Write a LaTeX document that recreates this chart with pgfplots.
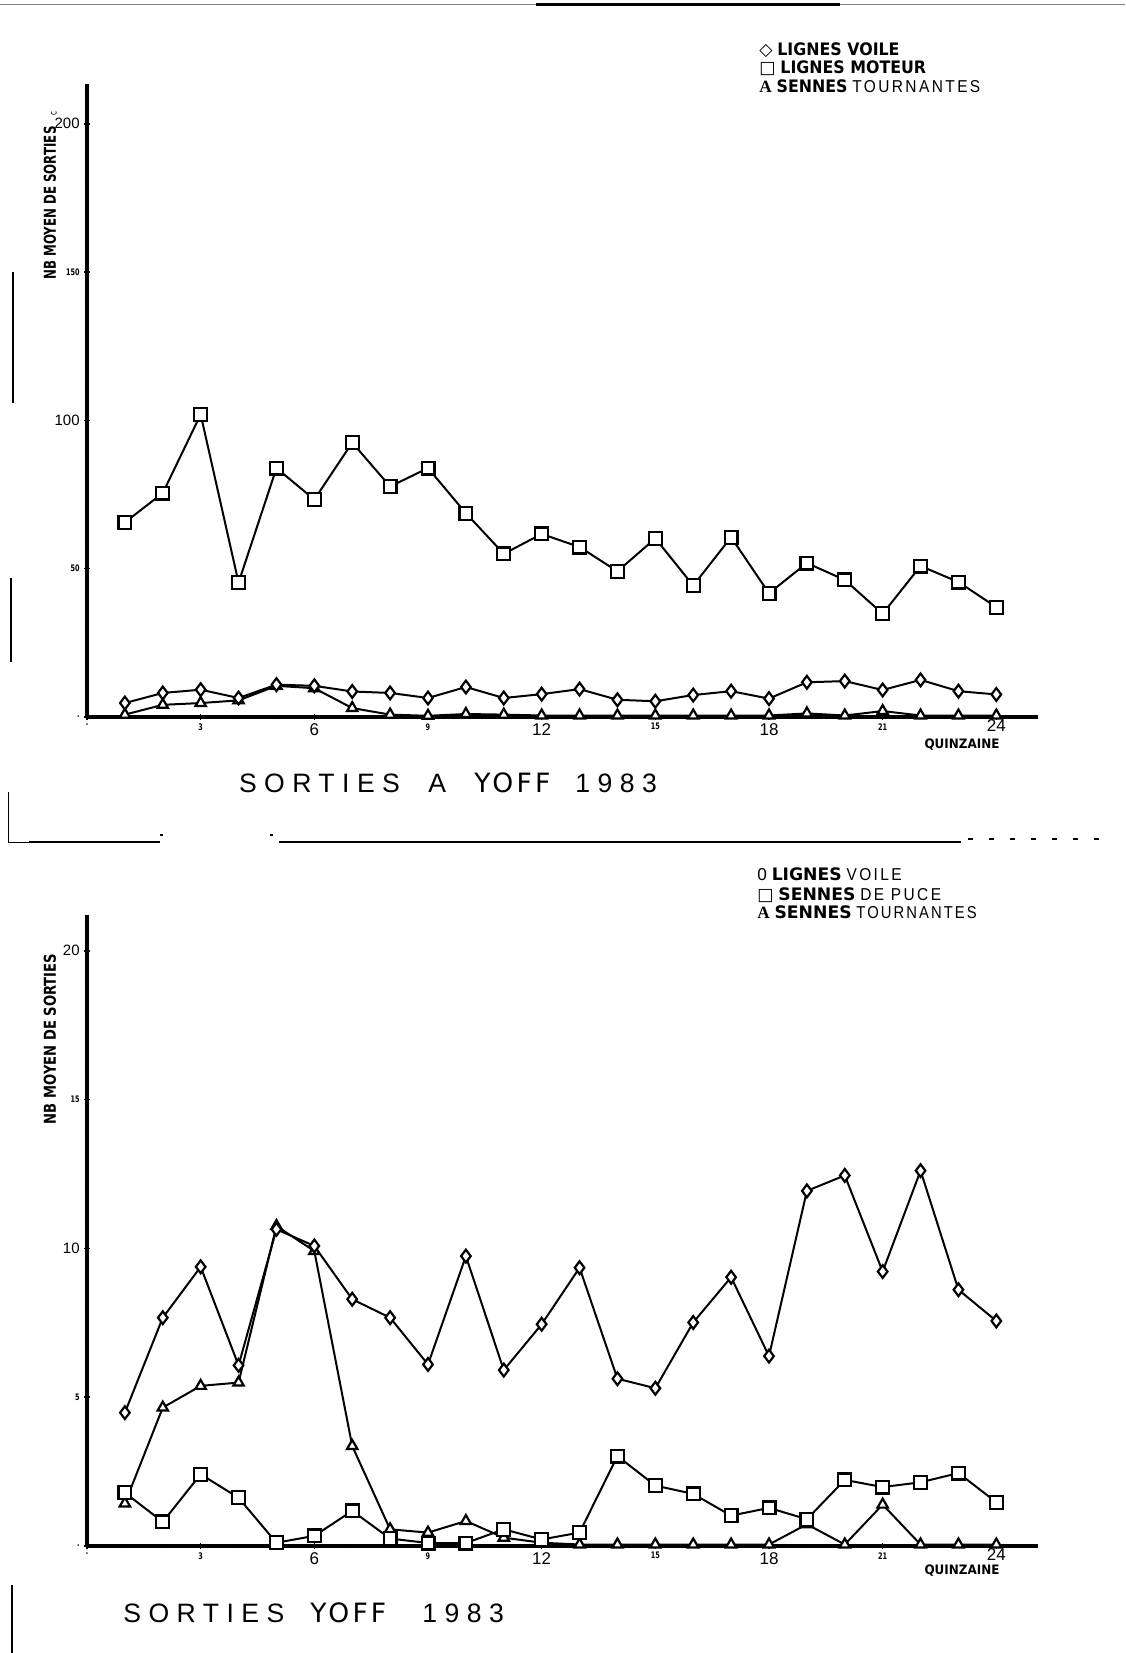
\documentclass[border=0pt]{standalone}
\usepackage{pgfplots}
\usepackage{pgfplotstable}
\pgfplotsset{compat=1.18}
\usepackage{fontspec}
\setmainfont{Liberation Sans}
\newfontfamily\sym{DejaVu Sans}
\newfontfamily\stamp[FakeStretch=0.92]{DejaVu Sans}
\newfontfamily\stampnarrow[FakeStretch=0.72]{DejaVu Sans}
\newfontfamily\stamplabel[FakeStretch=0.8]{DejaVu Sans}
\newfontfamily\spaced[LetterSpace=28]{Liberation Sans}
\newfontfamily\spacedsmall[LetterSpace=14,FakeStretch=0.9]{Liberation Sans}
\newfontfamily\spacedtight[LetterSpace=12,FakeStretch=0.86]{Liberation Sans}
\newfontfamily\serifA{Liberation Serif}
\newfontfamily\yofffont[LetterSpace=12]{DejaVu Sans}

% Mean number of trips per fortnight, Yoff 1983
\pgfplotstableread{
q  voile moteur tourn
1  4.7   65.6   0.8
2  8.1   75.5   4.1
3  9.2   102.0  4.7
4  6.4   45.3   5.6
5  10.9  83.9   10.5
6  10.5  73.3   9.7
7  8.6   92.5   3.0
8  8.1   77.7   0.8
9  6.4   83.9   0.4
10 10.1  68.7   1.0
11 6.4   55.0   0.8
12 7.7   61.7   0.5
13 9.4   57.3   0.5
14 5.8   49.1   0.5
15 5.3   60.2   0.5
16 7.4   44.3   0.5
17 8.7   60.6   0.5
18 6.2   41.7   0.5
19 11.7  51.9   1.2
20 12.1  46.2   0.5
21 9.1   34.8   2.0
22 12.5  50.9   0.5
23 8.7   45.5   0.5
24 7.6   37.0   0.5
}\sortiesA

\pgfplotstableread{
q  voile puce tourn
1  4.48  1.79  1.43
2  7.67  0.81  4.65
3  9.38  2.41  5.38
4  6.07  1.62  5.49
5  10.64 0.11  10.75
6  10.08 0.34  9.91
7  8.29  1.18  3.36
8  7.67  0.25  0.56
9  6.10  0.10  0.45
10 9.74  0.10  0.84
11 5.91  0.56  0.28
12 7.45  0.22  0.11
13 9.35  0.45  0.05
14 5.62  3.02  0.05
15 5.30  2.03  0.05
16 7.51  1.75  0.05
17 9.03  1.02  0.05
18 6.38  1.28  0.05
19 11.93 0.90  0.73
20 12.45 2.22  0.05
21 9.22  1.98  1.39
22 12.61 2.14  0.05
23 8.61  2.45  0.05
24 7.56  1.47  0.05
}\sortiesB

\newcommand{\blob}[1]{\mbox{\stampnarrow\bfseries\fontsize{4.5}{5}\selectfont #1}}
\newcommand{\num}[1]{\mbox{#1}}

\pgfplotsset{
  quinz/.style={
    scale only axis, width=475.5pt,
    xmin=0, xmax=25.1, ymin=0,
    anchor=south west,
    axis lines=left,
    axis line style={-, line width=2pt},
    every tick/.style={black, line width=0.8pt},
    major tick length=3pt, minor tick length=2.4pt,
    tick align=center,
    xtick={0,3,...,24}, minor xtick={1,...,25},
    xticklabels={\blob{.},\blob{3},\num{6},\blob{9},\num{12},\blob{15},\num{18},\blob{21},\num{\raisebox{1.8pt}[\height][\depth]{24}}},
    xticklabel style={font=\fontsize{8.5}{9}\selectfont, inner sep=1.5pt},
    yticklabel style={font=\fontsize{7.5}{8}\selectfont, inner sep=2pt},
    clip=false,
  },
  voile/.style={black, line width=1pt, mark=diamond*, mark size=3.2pt,
    mark options={solid, fill=white, line width=1.1pt}},
  carre/.style={black, line width=1pt, mark=square*, mark size=3.2pt,
    mark options={solid, fill=white, line width=1.1pt}},
  tourn/.style={black, line width=1pt, mark=triangle*, mark size=3pt,
    mark options={solid, fill=white, line width=1.1pt}},
}

\begin{document}
\begin{tikzpicture}[x=1pt,y=1pt]
\useasboundingbox (0,0) rectangle (562.5,826.5);

% ---------- upper panel ----------
\begin{axis}[quinz, at={(43.5pt,468pt)}, height=316.5pt, ymax=213.4,
  ytick={0,50,100,150,200}, minor ytick={10,20,...,210},
  yticklabels={\blob{.},\blob{50},\num{100},\blob{150},\num{200}}]
\addplot[tourn] table[x=q,y=tourn]{\sortiesA};
\addplot[voile] table[x=q,y=voile]{\sortiesA};
\addplot[carre] table[x=q,y=moteur]{\sortiesA};
\end{axis}

% ---------- lower panel ----------
\begin{axis}[quinz, at={(43.5pt,53.5pt)}, height=315.5pt, ymax=21.2,
  ytick={0,5,10,15,20}, minor ytick={1,...,21},
  yticklabels={\blob{.},\blob{5},\num{10},\blob{15},\num{20}}]
\addplot[tourn] table[x=q,y=tourn]{\sortiesB};
\addplot[voile] table[x=q,y=voile]{\sortiesB};
\addplot[carre] table[x=q,y=puce]{\sortiesB};
\end{axis}

% axis titles
\node[rotate=90, font=\stampnarrow\bfseries\fontsize{8.2}{9}\selectfont, inner sep=0pt]
  at (25,725) {NB MOYEN DE SORTIES};
\node[rotate=90, font=\stampnarrow\fontsize{5}{5}\selectfont, inner sep=0pt] at (27,769.5) {c};
\node[rotate=90, font=\stamplabel\bfseries\fontsize{8.2}{9}\selectfont, inner sep=0pt]
  at (25,307) {NB MOYEN DE SORTIES};
\node[font=\stamp\bfseries\fontsize{6.5}{8}\selectfont, inner sep=0pt] at (481,454) {QUINZAINE};
\node[font=\stamp\bfseries\fontsize{6.5}{8}\selectfont, inner sep=0pt] at (481,41) {QUINZAINE};

% legends
\begin{scope}[every node/.style={anchor=base west, inner sep=0pt, font=\fontsize{8.6}{9}\selectfont}]
\node at (379.5,798.5) {{\sym\bfseries ◇} {\stamp\bfseries LIGNES VOILE}};
\node at (379.5,789.5) {{\sym\bfseries □} {\stamp\bfseries LIGNES MOTEUR}};
\node at (379.5,780) {{\serifA\bfseries A} {\stamp\bfseries SENNES} {\spacedsmall TOURNANTES}};
\node at (378.5,386) {0 {\sym\bfseries LIGNES} {\spacedsmall VOILE}};
\node at (378.5,376) {{\sym\bfseries □} {\sym\bfseries SENNES} {\spacedsmall DE PUCE}};
\node at (378.5,367) {{\serifA\bfseries A} {\sym\bfseries SENNES} {\spacedtight TOURNANTES}};
\end{scope}

% panel titles
\begin{scope}[every node/.style={anchor=base west, inner sep=0pt, font=\fontsize{13.3}{14}\selectfont}]
\node at (119.3,430) {\spaced SORTIES};
\node at (214,430) {\spaced A};
\node at (237,430) {\yofffont YOFF};
\node at (287.5,430) {\spaced 1983};
\node at (61.5,15.5) {\spaced SORTIES};
\node at (155,15.5) {\yofffont YOFF};
\node at (211,15.5) {\spaced 1983};
\end{scope}

% page edge rules
\draw[gray, line width=0.5pt] (0,824) -- (562.5,824);
\draw[black, line width=1.4pt] (268,824.3) -- (420,824.3);
\draw[line width=1.3pt] (6.5,690.5) -- (6.5,625);
\draw[line width=1.3pt] (5.5,537.5) -- (5.5,495.5);
\draw[line width=1.3pt] (6,34) -- (6,0);

% separator between the panels
\draw[line width=0.4pt] (4.3,430.5) -- (4.3,405.5) -- (14.5,405.5);
\draw[line width=1.2pt] (14.5,405.5) -- (80,405.5);
\draw[line width=1.2pt] (80,409) -- (81.5,409);
\draw[line width=1.2pt] (135,409) -- (136.5,409);
\draw[line width=1.4pt] (139.5,405.5) -- (480.5,405.5);
\draw[line width=1.2pt, dash pattern=on 2.5pt off 8pt] (484,407) -- (557,407);
\end{tikzpicture}
\end{document}
